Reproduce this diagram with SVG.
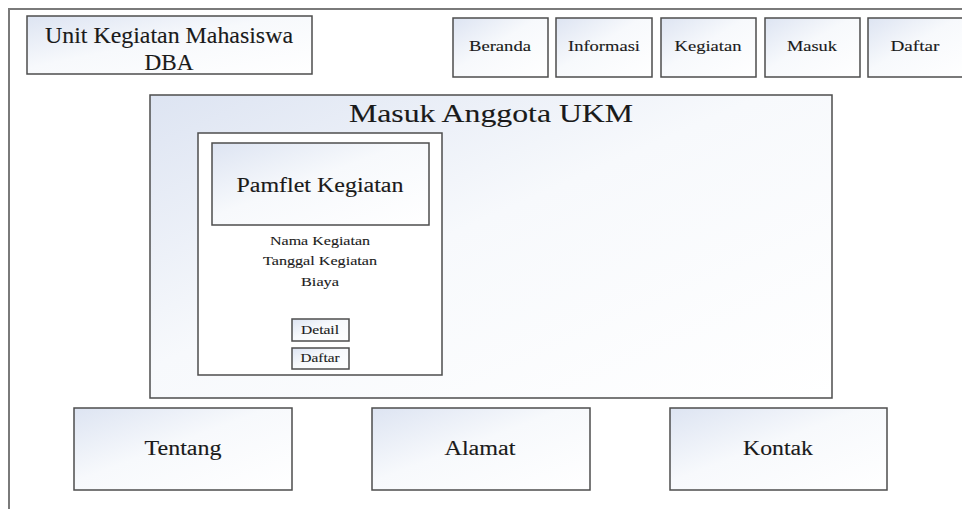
<svg xmlns="http://www.w3.org/2000/svg" width="962" height="509" viewBox="0 0 962 509">
  <defs>
    <linearGradient id="boxFill" x1="0" y1="0" x2="1" y2="1">
      <stop offset="0" stop-color="#dde4f2"/>
      <stop offset="0.45" stop-color="#f7f9fc"/>
      <stop offset="1" stop-color="#ffffff"/>
    </linearGradient>
    <style>
      .frame { fill: none; stroke: #7a7a7a; stroke-width: 2; }
      .box { fill: url(#boxFill); stroke: #4d4d4d; stroke-width: 1.5; }
      .plain { fill: #ffffff; stroke: #4d4d4d; stroke-width: 1.5; }
      text { fill: #1a1a1a; stroke: #1a1a1a; stroke-width: 0.12; text-anchor: middle; }
      .nav { font-size: 14px; }
      .small { font-size: 13.5px; }
      .big { font-size: 20px; }
    </style>
  </defs>

  <!-- page frame -->
  <path class="frame" d="M9,509 V9 H962"/>

  <g font-family="'Liberation Serif', 'DejaVu Serif', serif">
  <g id="brand">
    <rect class="box" x="27" y="16" width="285" height="58"/>
    <text x="169" y="43" font-size="23" textLength="248" lengthAdjust="spacingAndGlyphs">Unit Kegiatan Mahasiswa</text>
    <text x="169" y="70" font-size="23" textLength="49" lengthAdjust="spacingAndGlyphs">DBA</text>
  </g>

  <g id="nav-beranda">
    <rect class="box" x="453" y="18" width="95" height="59"/>
    <text class="nav" x="500" y="51" textLength="62" lengthAdjust="spacingAndGlyphs">Beranda</text>
  </g>
  <g id="nav-informasi">
    <rect class="box" x="556" y="18" width="96" height="59"/>
    <text class="nav" x="604" y="51" textLength="72" lengthAdjust="spacingAndGlyphs">Informasi</text>
  </g>
  <g id="nav-kegiatan">
    <rect class="box" x="661" y="18" width="95" height="59"/>
    <text class="nav" x="708" y="51" textLength="67" lengthAdjust="spacingAndGlyphs">Kegiatan</text>
  </g>
  <g id="nav-masuk">
    <rect class="box" x="765" y="18" width="95" height="59"/>
    <text class="nav" x="812" y="51" textLength="50" lengthAdjust="spacingAndGlyphs">Masuk</text>
  </g>
  <g id="nav-daftar">
    <rect class="box" x="868" y="18" width="100" height="59"/>
    <text class="nav" x="915" y="51" textLength="49" lengthAdjust="spacingAndGlyphs">Daftar</text>
  </g>

  <g id="main-panel">
    <rect class="box" x="150" y="95" width="682" height="303"/>
    <text x="491" y="122" font-size="25" textLength="284" lengthAdjust="spacingAndGlyphs">Masuk Anggota UKM</text>
  </g>

  <g id="event-card">
    <rect class="plain" x="198" y="133" width="244" height="242"/>
    <text class="small" x="320" y="245" textLength="100" lengthAdjust="spacingAndGlyphs">Nama Kegiatan</text>
    <text class="small" x="320" y="265" textLength="114" lengthAdjust="spacingAndGlyphs">Tanggal Kegiatan</text>
    <text class="small" x="320" y="286" textLength="38" lengthAdjust="spacingAndGlyphs">Biaya</text>
  </g>

  <g id="pamflet">
    <rect class="box" x="212" y="143" width="217" height="82"/>
    <text class="big" x="320" y="192" textLength="167" lengthAdjust="spacingAndGlyphs">Pamflet Kegiatan</text>
  </g>

  <g id="btn-detail">
    <rect class="box" x="292" y="319" width="57" height="22"/>
    <text class="small" x="320" y="334" textLength="38" lengthAdjust="spacingAndGlyphs">Detail</text>
  </g>
  <g id="btn-daftar">
    <rect class="box" x="292" y="348" width="57" height="21"/>
    <text class="small" x="320" y="362" textLength="39" lengthAdjust="spacingAndGlyphs">Daftar</text>
  </g>

  <g id="footer-tentang">
    <rect class="box" x="74" y="408" width="218" height="82"/>
    <text class="big" x="183" y="455" textLength="77" lengthAdjust="spacingAndGlyphs">Tentang</text>
  </g>
  <g id="footer-alamat">
    <rect class="box" x="372" y="408" width="218" height="82"/>
    <text class="big" x="480" y="455" textLength="71" lengthAdjust="spacingAndGlyphs">Alamat</text>
  </g>
  <g id="footer-kontak">
    <rect class="box" x="670" y="408" width="217" height="82"/>
    <text class="big" x="778" y="455" textLength="70" lengthAdjust="spacingAndGlyphs">Kontak</text>
  </g>
  </g>

  <!-- no connectors in this layout -->
  <g id="connectors"/>
</svg>
